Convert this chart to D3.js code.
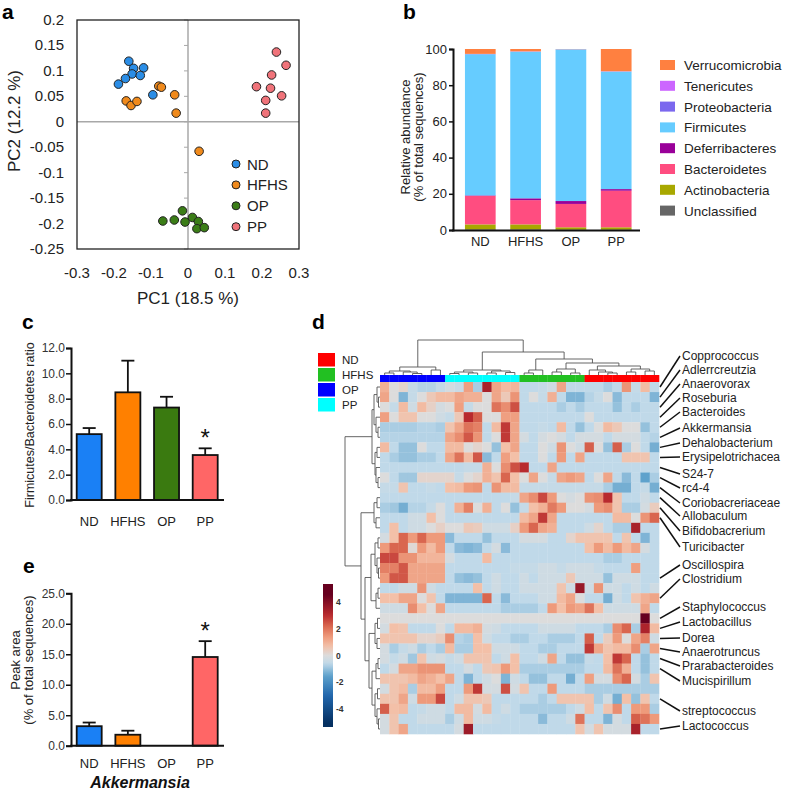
<!DOCTYPE html>
<html>
<head>
<meta charset="utf-8">
<script src="https://cdn.jsdelivr.net/npm/d3@7"></script>
<style>
  body { margin: 0; background: #fff; }
  text { font-family: Arial, "Liberation Sans", Helvetica, sans-serif; }
</style>
</head>
<body>
<div id="chart"></div>
<script>
'use strict';

// ---------- Data ---------- //
var groups = ['ND', 'HFHS', 'OP', 'PP'];
var groupColor = ['#1a80f5', '#ff8000', '#3a7a10', '#ff6666'];
var pointColor = ['#2a8de6', '#f08a1c', '#3b7d17', '#f0737a'];

// panel a : PCA coordinates [PC1, PC2]
var pcaND   = [[-0.160, 0.119], [-0.147, 0.105], [-0.120, 0.106], [-0.151, 0.094], [-0.129, 0.091], [-0.169, 0.085], [-0.188, 0.074], [-0.095, 0.053]];
var pcaHFHS = [[-0.167, 0.041], [-0.154, 0.032], [-0.138, 0.040], [-0.079, 0.070], [-0.072, 0.068], [-0.036, 0.053], [-0.032, 0.017], [0.030, -0.058]];
var pcaOP   = [[-0.015, -0.175], [-0.068, -0.195], [-0.037, -0.193], [-0.008, -0.197], [0.012, -0.188], [0.028, -0.196], [0.024, -0.210], [0.044, -0.208]];
var pcaPP   = [[0.239, 0.137], [0.265, 0.111], [0.226, 0.092], [0.185, 0.069], [0.223, 0.066], [0.253, 0.051], [0.210, 0.042], [0.210, 0.017]];
var pcaXTicks = [-0.3, -0.2, -0.1, 0, 0.1, 0.2, 0.3];
var pcaYTicks = [-0.25, -0.2, -0.15, -0.1, -0.05, 0, 0.05, 0.1, 0.15, 0.2];

// panel b : phylum relative abundance (%), per group ND, HFHS, OP, PP
var phyla = ['Unclassified', 'Actinobacteria', 'Bacteroidetes', 'Deferribacteres', 'Firmicutes', 'Proteobacteria', 'Tenericutes', 'Verrucomicrobia'];
var phylaColor = ['#666666', '#a8a800', '#ff4d80', '#990099', '#66ccff', '#7b68ee', '#cc66ff', '#ff8040'];
var unclassified    = [0.3, 0.3, 0.2, 0.2];
var actinobacteria  = [2.8, 2.8, 1.3, 1.3];
var bacteroidetes   = [15.7, 13.4, 12.9, 20.2];
var deferribacteres = [0.3, 1.0, 1.6, 0.9];
var firmicutes      = [78.0, 81.0, 83.8, 64.9];
var proteobacteria  = [0.1, 0.1, 0.05, 0.1];
var tenericutes     = [0.1, 0.1, 0.05, 0.1];
var verrucomicrobia = [2.7, 1.3, 0.1, 12.3];
var abundTicks = [0, 20, 40, 60, 80, 100];

// panel c : Firmicutes/Bacteroidetes ratio
var ratioMean = [5.2, 8.5, 7.3, 3.55];
var ratioSem  = [0.48, 2.5, 0.85, 0.53];
var ratioTicks = [0, 2, 4, 6, 8, 10, 12];

// panel e : Akkermansia peak area
var akkMean = [3.2, 1.8, 0, 14.55];
var akkSem  = [0.6, 0.66, 0, 2.6];
var akkTicks = [0, 5, 10, 15, 20, 25];

// panel d : heatmap (z-scores), 35 genera x 30 samples
var colGroup = ['OP','OP','OP','OP','OP','OP','OP',
  'PP','PP','PP','PP','PP','PP','PP','PP',
  'HFHS','HFHS','HFHS','HFHS','HFHS','HFHS','HFHS',
  'ND','ND','ND','ND','ND','ND','ND','ND'];
var heat = [
  [1.0,0,0.2,-0.5,-0.7,-0.7,-0.5,-0.2,-0.4,1.3,-0.8,3.3,1.2,0.8,0.9,-0.6,-0.6,-0.5,-0.3,1.2,-0.6,-0.6,-0.6,-0.6,-0.8,-0.6,1.5,-0.5,0.8,-0.6],
  [1.2,0,-1.2,-0.5,0,0.5,0.8,0.8,1.2,1.0,1.0,0,1.2,0.5,1.5,-0.6,0,-0.5,1.0,-0.6,-1.2,-1.2,-0.7,-0.5,0,-1.1,-0.6,-0.6,-0.6,-1.2],
  [0,-0.5,0.8,-0.3,0.8,0.3,-0.2,0,1.3,-0.5,0,0,2.0,1.6,2.5,-0.6,-0.6,-0.6,-0.6,-0.8,-0.6,-0.8,-0.6,-0.6,-0.6,-1.0,-0.6,-0.8,-0.6,-0.6],
  [1.3,0,0.6,0.6,0,0,-0.3,-0.5,0.5,3.0,2.3,0,0,1.3,1.3,-0.6,-0.6,-0.6,-0.6,-0.6,-0.6,-0.6,0,-0.6,-0.6,-0.6,-0.6,-0.6,-0.6,-0.6],
  [-0.8,-0.8,-0.8,-0.8,-0.7,-0.7,-0.8,0.6,1.2,2.0,1.8,-0.6,0.8,2.8,1.2,-0.6,-0.6,-0.5,-0.6,0.8,-0.6,-1.0,-0.6,0,0.8,0.5,0,0,-1.0,-0.6],
  [-0.7,-0.7,-0.7,-0.7,-0.7,-0.7,-0.7,1.2,1.6,2.4,1.5,-0.6,0,2.8,1.2,-0.2,-0.6,-0.2,0,-0.2,-0.6,-0.2,-0.2,-0.2,-0.6,-0.2,-0.2,-0.2,-0.6,-0.7],
  [0.8,-0.6,-1.0,-1.0,0,-0.6,-0.6,0.8,0.8,0,0.2,0,-1.0,0.7,1.2,-0.6,-0.6,0,-0.3,1.5,0,-0.3,2.3,0,-1.0,2.3,-0.8,0,-0.6,-1.3],
  [-0.6,-0.8,-1.0,-1.0,-0.8,-0.8,-0.6,1.2,2.0,0.8,2.4,-1.1,-0.6,1.3,0.7,-0.6,-0.6,0,-0.6,1.4,-0.6,1.2,-0.6,-0.6,-0.6,-0.6,0.6,0.6,0.6,-0.6],
  [-0.6,-0.6,-0.6,-0.6,-0.6,-0.6,-0.6,-0.6,-0.6,-0.5,-0.5,1.0,0,1.6,2.5,3.0,-0.6,-0.6,1.2,-0.6,-0.6,-0.6,-0.6,-0.6,-0.6,-0.6,-0.6,-0.6,-0.6,-0.6],
  [0,-0.6,-0.9,-0.9,0.2,0.2,0.2,0.2,-0.5,0,0.2,1.0,0.6,2.2,0.7,0,1.2,0,-0.5,1.2,1.4,1.2,-0.6,0,1.2,-0.6,-1.1,-0.6,-1.5,-0.8],
  [-0.5,-0.5,0.6,-0.6,-0.6,-0.5,-0.6,0.7,0.8,1.4,1.5,-0.6,1.5,0.8,0.8,-0.5,-0.5,-0.5,-0.5,-0.5,-0.5,-0.5,-0.5,-0.5,-0.8,-1.3,-1.3,-0.6,-0.5,-1.3],
  [-0.6,-0.6,-0.6,-0.6,-0.6,-0.6,-0.6,-0.6,-0.6,-0.6,-0.6,-0.6,-0.6,-0.6,-0.5,1.2,1.6,2.6,1.4,0,-0.2,0,1.5,1.6,3.0,0.6,-0.6,-0.6,-0.3,-0.6],
  [-0.8,-0.9,-1.3,-0.7,-0.7,-0.5,0,-0.6,1.0,1.8,0,1.0,-0.6,0,-1.0,-0.5,0.7,1.0,1.9,1.4,0,0,-0.2,1.4,1.6,0.6,-0.8,-0.8,-0.2,0.4],
  [-0.6,-0.6,-0.6,-0.3,-0.3,0.7,0,-0.6,-0.6,-0.6,-0.6,-0.6,-0.6,-0.6,-0.6,0.8,1.2,2.8,1.2,-0.6,-0.6,-0.6,-0.6,-0.6,-0.6,0.8,0.8,0,1.5,2.2],
  [-0.6,0.7,-0.6,-0.3,-0.3,0,0.3,0,0,0.5,0.4,-0.3,-0.3,-0.3,0.3,1.4,2.2,1.2,1.0,-0.6,-0.6,-0.6,-0.3,0.2,-0.6,-0.8,-0.8,3.3,-0.6,-0.6],
  [-0.2,0.7,2.2,1.4,2.2,1.4,1.4,-1.1,-0.6,-0.6,-0.6,-1.0,-0.6,-0.6,-0.6,-0.2,-0.2,-0.2,-0.6,-0.6,0.2,0.6,0.6,0.6,0.6,-0.6,0.6,-0.6,-1.2,-0.6],
  [1.4,2.2,2.2,0.1,1.4,0.8,1.4,-0.6,-1.1,-1.2,-1.1,-0.6,-0.2,-1.1,-0.6,-0.6,-0.6,-0.6,-0.6,-0.6,-0.6,-0.6,0.7,1.4,0.8,1.4,0.8,1.2,-0.2,-0.6],
  [2.6,2.6,1.5,1.5,0.9,0.9,0.9,-0.2,-0.6,-0.6,-0.6,0.8,-0.6,-0.6,-0.6,-0.6,-0.6,-0.6,-0.6,-0.6,-0.6,-0.6,-0.6,-0.6,-0.8,-0.8,-0.6,-0.6,-0.6,-0.6],
  [1.8,1.8,2.4,1.2,1.2,1.2,1.2,-0.6,-0.6,-0.6,-0.6,-0.6,-0.6,-0.6,-0.5,-0.5,-0.5,-0.3,-0.3,-0.5,-0.3,-0.3,-0.3,-0.5,-0.6,-0.6,-0.6,1.3,-0.6,-0.6],
  [1.4,2.4,2.4,1.2,1.2,1.2,1.2,-0.6,-1.0,-1.1,-1.0,-0.6,-0.3,-0.6,-0.6,-0.3,-0.6,-0.3,-0.3,-0.3,0.5,-0.3,-0.3,-0.3,-1.0,-0.3,-0.3,-0.3,-0.6,-0.6],
  [-0.6,-0.6,-0.3,-0.3,1.5,-0.3,-0.6,-0.6,-0.6,-0.6,0.7,-0.6,-0.3,-0.6,-0.6,-0.3,-0.3,-0.3,-0.3,0.6,-0.3,3.6,-0.3,1.5,-0.3,-0.3,-0.6,-0.3,-0.6,-0.3],
  [0.7,0.7,1.2,1.2,0,0.6,-0.6,-1.2,-1.2,-1.2,-1.2,2.2,-0.6,-1.1,-0.6,-0.6,-0.6,-0.3,-0.3,0.8,1.2,0,-0.6,-0.6,-1.3,-0.3,-0.6,0.6,1.0,1.2],
  [-0.3,-0.3,-0.3,1.6,0.7,0,1.2,-0.6,-0.6,-0.6,-0.6,-0.6,-0.6,-0.8,-0.8,-0.8,-0.8,-0.6,1.4,0.7,1.4,1.2,2.0,0.7,-0.3,-0.3,-0.3,-0.3,1.2,-0.6],
  [0,0,0,0,0,0,0,0,0,0,0,0,0,0,0,0,0,0,0,0,0,0,0,0,0,0,0,0,4.8,0],
  [-0.2,0.7,0.6,-0.6,-0.6,-0.6,0,-0.6,0.8,0.8,1.0,-0.2,-0.3,-0.6,-0.6,-0.6,-0.6,-0.3,-0.3,-0.3,-0.3,-0.6,-0.6,-0.6,-0.8,1.6,2.2,-0.8,3.2,0.8],
  [0.6,0.6,0.6,0.6,0.2,0.2,0.4,1.6,-0.7,-0.8,0.7,-0.3,-0.6,-0.6,-0.8,-0.8,-0.6,-0.6,-0.8,-0.8,-0.8,-0.6,2.3,-0.6,0.4,1.4,0,1.2,1.8,-0.3],
  [-0.2,-0.8,-0.5,-0.3,-0.8,-0.6,-0.8,0.8,-0.8,-0.8,0.7,0.7,-0.3,-0.3,-0.3,-0.6,-0.6,-0.8,-0.8,-0.6,-0.6,-0.6,2.8,1.2,0.6,0.8,0.8,1.6,-0.8,1.2],
  [-0.2,-0.5,-0.3,-0.9,0.6,-0.3,-0.2,-0.5,-0.3,0.6,0.6,0.6,-0.6,-0.3,0.7,-0.6,-0.6,-0.3,1.2,-0.6,-1.0,-1.0,-0.5,-0.6,0.7,2.8,2.2,-0.6,-1.0,-0.6],
  [-0.6,-0.2,1.2,1.2,1.5,1.5,1.5,-0.6,-0.6,-0.2,-0.6,0.5,0.6,1.4,0.7,-0.8,-0.8,-0.8,-0.8,-0.8,-0.8,-0.8,-0.6,-0.6,0.8,2.0,1.0,-0.6,-1.0,-0.6],
  [0.6,0.6,0.6,0.8,1.2,1.0,0.7,1.2,-0.6,-1.2,-0.6,-0.3,0,-1.2,-0.3,-0.6,-1.0,-1.0,-0.6,-0.6,-1.3,-0.6,1.3,-0.2,-0.2,1.6,2.2,-0.2,-0.8,0.6],
  [-0.2,0.6,0.8,-0.8,0.8,0.8,1.3,-0.6,-0.6,1.4,2.8,-0.2,-0.2,2.5,-0.2,0.6,-0.6,-0.6,1.4,-0.6,-0.6,-0.6,-0.8,-0.8,-0.8,-0.8,-0.8,-0.8,-0.8,-0.8],
  [0.6,0.6,1.2,-0.3,1.4,1.4,2.6,-0.6,-0.3,0.6,0.6,0.5,-0.6,-0.6,-0.6,-0.6,-0.6,-0.8,-0.6,0.6,0.6,0.6,0.6,-0.8,-0.3,-1.3,0.7,-1.0,0.6,-0.6],
  [2.3,0.7,0.8,-0.6,-0.5,-0.3,-0.3,-0.6,0.8,0.8,-0.2,0.8,-0.6,-0.3,-0.6,-0.8,-0.8,-0.8,-0.8,-0.8,-0.6,-0.3,0.7,-0.6,0.6,1.6,-0.6,1.4,1.4,-0.8],
  [-0.2,0.6,-0.6,-0.6,-0.3,-0.3,-0.3,-0.8,-0.3,0.8,-0.3,-0.3,-0.5,-0.6,-0.6,-0.6,-0.6,-1.1,-0.6,-0.6,-0.3,2.0,-0.6,-0.6,-1.2,-0.2,-0.6,2.3,2.0,1.4],
  [-0.2,0.6,1.2,-0.6,-0.6,-0.6,-0.6,-0.6,-0.2,3.5,-0.6,-0.6,-0.6,-0.6,-0.6,-0.6,-0.6,-0.6,-0.6,-0.6,-0.6,0.6,-0.2,0.6,-0.2,-0.2,-0.2,3.3,-0.6,-0.6]
];
var genusNames = ['Copprococcus','Adlerrcreutzia','Anaerovorax','Roseburia','Bacteroides','Akkermansia','Dehalobacterium','Erysipelotrichacea','S24-7','rc4-4','Coriobacreriaceae','Allobaculum','Bifidobacrerium','Turicibacter','Oscillospira','Clostridium','Staphylococcus','Lactobacillus','Dorea','Anaerotruncus','Prarabacteroides','Mucispirillum','streptococcus','Lactococcus'];
var genusRow = [0,1,2,3,4,5,6,7,8,9,10,11,12,13,19,21,23,24,25,26,27,28,31,34];
var genusLabelY = [356,370,384,398,412,428,443,457,474,488,503,516,531,547,565,579,607,622,638,652,666,681,711,726];
var scaleTicks = [4, 2, 0, -2, -4];

// dendrograms: [height, left, right], leaves = index
var colTree = [35,
  [8, [4, [2, 0, 1], [3, 2, [1.5, 3, 4]]], [5, 5, 6]],
  [23,
    [5, [3, [1.5, 7, 8], [2, 9, 10]], [4, [2, 11, 12], [2.5, 13, 14]]],
    [16,
      [5, [2, 15, 16], 17],
      [12, [6, [3, 18, 19], [2, 20, 21]],
        [9, [5, 22, [3, 23, [2, 24, 25]]], [6, [3, 26, 27], [4, 28, 29]]]]]]];
var rowTree = [35,
  [8, [6, [3, 0, [1.5, 1, 2]], [4, 3, [2, 4, 5]]], [5, [3, 6, 7], [4, 8, [2, 9, 10]]]],
  [19,
    [6, [3, 11, 12], [4, 13, 14]],
    [15,
      [9, [5, [2, 15, 16], [3, 17, [1.5, 18, 19]]], [4, [2, 20, 21], 22]],
      [11, [5, [2.5, 23, 24], [3, 25, 26]],
        [8, [4, [2, 27, 28], 29], [5, [2.5, 30, 31], [3, 32, [1.5, 33, 34]]]]]]]];

// ---------- Canvas ---------- //
var svg = d3.select('#chart').append('svg')
  .attr('width', 787)
  .attr('height', 792);

function panelLetter(t, x, y) {
  svg.append('text').attr('x', x).attr('y', y)
    .attr('font-size', 21).attr('font-weight', 'bold').text(t);
}
function fmt(d) { return d === 0 ? '0' : String(+d.toFixed(2)); }

// ---------- Panel a ---------- //
panelLetter('a', 2, 19);
var ax = d3.scaleLinear().domain([-0.3, 0.3]).range([77, 299]);
var ay = d3.scaleLinear().domain([-0.25, 0.2]).range([249, 20]);
var ga = svg.append('g');

ga.append('line').attr('x1', ax(0)).attr('x2', ax(0)).attr('y1', ay.range()[1]).attr('y2', ay.range()[0])
  .attr('stroke', '#a8a8a8').attr('stroke-width', 1.5);
ga.append('line').attr('y1', ay(0)).attr('y2', ay(0)).attr('x1', ax.range()[0]).attr('x2', ax.range()[1])
  .attr('stroke', '#a8a8a8').attr('stroke-width', 1.5);
ga.selectAll('.ztick').data(pcaYTicks).enter().append('line')
  .attr('x1', ax(0) - 4).attr('x2', ax(0)).attr('y1', function (d) { return ay(d); }).attr('y2', function (d) { return ay(d); })
  .attr('stroke', '#a8a8a8').attr('stroke-width', 1);
ga.append('rect').attr('x', 77).attr('y', 20).attr('width', 222).attr('height', 229)
  .attr('fill', 'none').attr('stroke', '#222').attr('stroke-width', 1.3);

ga.selectAll('.xl').data(pcaXTicks).enter().append('text')
  .attr('x', function (d) { return ax(d); }).attr('y', 278)
  .attr('text-anchor', 'middle').attr('font-size', 15).attr('fill', '#222').text(fmt);
ga.selectAll('.yl').data(pcaYTicks).enter().append('text')
  .attr('x', 64).attr('y', function (d) { return ay(d) + 5; })
  .attr('text-anchor', 'end').attr('font-size', 15).attr('fill', '#222').text(fmt);
ga.append('text').attr('x', 188).attr('y', 304).attr('text-anchor', 'middle')
  .attr('font-size', 17).attr('fill', '#222').text('PC1 (18.5 %)');
ga.append('text').attr('transform', 'translate(20,121) rotate(-90)').attr('text-anchor', 'middle')
  .attr('font-size', 17).attr('fill', '#222').text('PC2 (12.2 %)');

[pcaND, pcaHFHS, pcaOP, pcaPP].forEach(function (pts, gi) {
  ga.selectAll('.p' + gi).data(pts).enter().append('circle')
    .attr('cx', function (d) { return ax(d[0]); })
    .attr('cy', function (d) { return ay(d[1]); })
    .attr('r', 4.3).attr('fill', pointColor[gi]).attr('stroke', '#222').attr('stroke-width', 1);
});
var legA = ga.selectAll('.la').data(groups).enter().append('g')
  .attr('transform', function (d, i) { return 'translate(236,' + (164 + i * 20.9) + ')'; });
legA.append('circle').attr('r', 4).attr('fill', function (d, i) { return pointColor[i]; })
  .attr('stroke', '#222').attr('stroke-width', 1);
legA.append('text').attr('x', 11).attr('y', 5.5).attr('font-size', 15).attr('fill', '#222').text(function (d) { return d; });

// ---------- Panel b ---------- //
panelLetter('b', 403, 19);
var bx = d3.scalePoint().domain(groups).range([480.3, 616.2]);
var by = d3.scaleLinear().domain([0, 100]).range([230, 49]);
var barW = 30.7;
var seriesB = [unclassified, actinobacteria, bacteroidetes, deferribacteres, firmicutes, proteobacteria, tenericutes, verrucomicrobia];
var rowsB = groups.map(function (g, i) {
  var o = { group: g };
  phyla.forEach(function (p, k) { o[p] = seriesB[k][i]; });
  return o;
});
var stackB = d3.stack().keys(phyla)(rowsB);
var gb = svg.append('g');
gb.selectAll('.layer').data(stackB).enter().append('g')
  .attr('fill', function (d, k) { return phylaColor[k]; })
  .selectAll('rect').data(function (d) { return d; }).enter().append('rect')
  .attr('x', function (d) { return bx(d.data.group) - barW / 2; })
  .attr('width', barW)
  .attr('y', function (d) { return by(Math.min(d[1], 100)); })
  .attr('height', function (d) { return Math.max(0, by(d[0]) - by(Math.min(d[1], 100))); });
gb.append('g').attr('transform', 'translate(453,0)')
  .call(d3.axisLeft(by).tickValues(abundTicks).tickSize(4).tickFormat(d3.format('d')))
  .call(function (g) {
    g.select('.domain').attr('stroke', '#111').attr('stroke-width', 2);
    g.selectAll('.tick line').attr('stroke', '#111').attr('stroke-width', 1.5);
    g.selectAll('.tick text').attr('font-size', 13).attr('fill', '#222').attr('x', -6);
  });
gb.append('line').attr('x1', 452).attr('x2', 640).attr('y1', 230.5).attr('y2', 230.5)
  .attr('stroke', '#111').attr('stroke-width', 2);
gb.selectAll('.bxl').data(groups).enter().append('text')
  .attr('x', function (d) { return bx(d); }).attr('y', 246)
  .attr('text-anchor', 'middle').attr('font-size', 13).attr('fill', '#222').text(function (d) { return d; });
gb.append('text').attr('transform', 'translate(410,137) rotate(-90)').attr('text-anchor', 'middle')
  .attr('font-size', 13).attr('fill', '#222').text('Relative abundance');
gb.append('text').attr('transform', 'translate(423,137) rotate(-90)').attr('text-anchor', 'middle')
  .attr('font-size', 13).attr('fill', '#222').text('(% of total sequences)');
var legB = gb.selectAll('.lb').data(phyla.slice().reverse()).enter().append('g')
  .attr('transform', function (d, i) { return 'translate(660,' + (65 + i * 20.8) + ')'; });
legB.append('rect').attr('x', 0).attr('y', -5).attr('width', 15).attr('height', 10)
  .attr('fill', function (d) { return phylaColor[phyla.indexOf(d)]; });
legB.append('text').attr('x', 24).attr('y', 5).attr('font-size', 13.5).attr('fill', '#222').text(function (d) { return d; });

// ---------- Bar panels c and e ---------- //
function barPanel(opt) {
  var g = svg.append('g');
  var x = d3.scalePoint().domain(groups).range([89.2, 205.2]);
  var y = d3.scaleLinear().domain(opt.domain).range(opt.range);
  var w = 25;
  opt.mean.forEach(function (m, i) {
    if (m <= 0) return;
    var top = y(m + opt.sem[i]);
    g.append('line').attr('x1', x(groups[i])).attr('x2', x(groups[i])).attr('y1', y(m)).attr('y2', top)
      .attr('stroke', '#111').attr('stroke-width', 1.8);
    g.append('line').attr('x1', x(groups[i]) - 6.5).attr('x2', x(groups[i]) + 6.5).attr('y1', top).attr('y2', top)
      .attr('stroke', '#111').attr('stroke-width', 1.8);
  });
  g.selectAll('.bar').data(opt.mean).enter().filter(function (d) { return d > 0; }).append('rect')
    .attr('x', function (d) { return x(groups[opt.mean.indexOf(d)]) - w / 2; })
    .attr('y', function (d) { return y(d); })
    .attr('width', w)
    .attr('height', function (d) { return y(0) - y(d); })
    .attr('fill', function (d) { return groupColor[opt.mean.indexOf(d)]; })
    .attr('stroke', '#111').attr('stroke-width', 1.8);
  g.append('g').attr('transform', 'translate(71,0)')
    .call(d3.axisLeft(y).tickValues(opt.ticks).tickSize(5).tickFormat(d3.format('.1f')))
    .call(function (a) {
      a.select('.domain').attr('stroke', '#111').attr('stroke-width', 2);
      a.selectAll('.tick line').attr('stroke', '#111').attr('stroke-width', 1.5);
      a.selectAll('.tick text').attr('font-size', 12).attr('fill', '#333').attr('x', -6);
    });
  g.append('line').attr('x1', 70).attr('x2', 224).attr('y1', y(0)).attr('y2', y(0))
    .attr('stroke', '#111').attr('stroke-width', 2);
  g.selectAll('.xl').data(groups).enter().append('text')
    .attr('x', function (d) { return x(d); }).attr('y', opt.xLabelY)
    .attr('text-anchor', 'middle').attr('font-size', 13).attr('fill', '#222').text(function (d) { return d; });
  g.append('text').attr('x', x('PP')).attr('y', y(opt.mean[3] + opt.sem[3]) - 2.5)
    .attr('text-anchor', 'middle').attr('font-size', 24).attr('fill', '#111').text('*');
  return g;
}

panelLetter('c', 22, 329);
var gc = barPanel({ mean: ratioMean, sem: ratioSem, domain: [0, 12], range: [500, 348], ticks: ratioTicks, xLabelY: 526 });
gc.append('text').attr('transform', 'translate(34,425) rotate(-90)').attr('text-anchor', 'middle')
  .attr('font-size', 12.5).attr('fill', '#222').text('Firmicutes/Bacteroidetes ratio');

panelLetter('e', 23, 573);
var ge = barPanel({ mean: akkMean, sem: akkSem, domain: [0, 25], range: [745.7, 593.3], ticks: akkTicks, xLabelY: 768 });
ge.append('text').attr('transform', 'translate(20,660) rotate(-90)').attr('text-anchor', 'middle')
  .attr('font-size', 13).attr('fill', '#222').text('Peak area');
ge.append('text').attr('transform', 'translate(33,660) rotate(-90)').attr('text-anchor', 'middle')
  .attr('font-size', 13).attr('fill', '#222').text('(% of total sequences)');
ge.append('text').attr('x', 140).attr('y', 788).attr('text-anchor', 'middle')
  .attr('font-size', 16).attr('font-weight', 'bold').attr('font-style', 'italic').attr('fill', '#111').text('Akkermansia');

// ---------- Panel d : heatmap ---------- //
panelLetter('d', 312, 329);
var gd = svg.append('g');
var hx = d3.scaleBand().domain(d3.range(heat[0].length)).range([380, 659]);
var hy = d3.scaleBand().domain(d3.range(heat.length)).range([382, 734]);
var heatColor = d3.scaleLinear()
  .domain([-5, -3, -1.5, -0.6, 0, 0.7, 1.4, 2.2, 3, 4.5])
  .range(['#053061', '#2166ac', '#5fa2cc', '#c0d9e9', '#dcdcdc', '#f3c0a8', '#ee9a7b', '#d9664f', '#b82a2e', '#67001f'])
  .clamp(true);
var groupHeatColor = { ND: '#ff0000', HFHS: '#22c022', OP: '#0000ff', PP: '#00ffff' };

heat.forEach(function (row, r) {
  gd.selectAll('.c' + r).data(row).enter().append('rect')
    .attr('x', function (d, c) { return hx(c); })
    .attr('y', hy(r))
    .attr('width', hx.bandwidth() + 0.3)
    .attr('height', hy.bandwidth() + 0.3)
    .attr('fill', function (d) { return heatColor(d); });
});
gd.selectAll('.cg').data(colGroup).enter().append('rect')
  .attr('x', function (d, c) { return hx(c); }).attr('y', 375)
  .attr('width', hx.bandwidth() + 0.3).attr('height', 7)
  .attr('fill', function (d) { return groupHeatColor[d]; });

// dendrograms
function drawTree(node, leafPos, hs, horizontal, out) {
  if (typeof node === 'number') return { p: leafPos(node), h: 0 };
  var a = drawTree(node[1], leafPos, hs, horizontal, out);
  var b = drawTree(node[2], leafPos, hs, horizontal, out);
  var h = node[0];
  if (horizontal) {
    out.push('M' + a.p + ',' + hs(a.h) + 'V' + hs(h) + 'H' + b.p + 'V' + hs(b.h));
  } else {
    out.push('M' + hs(a.h) + ',' + a.p + 'H' + hs(h) + 'V' + b.p + 'H' + hs(b.h));
  }
  return { p: (a.p + b.p) / 2, h: h };
}
var topPaths = [];
drawTree(colTree, function (i) { return hx(i) + hx.bandwidth() / 2; },
  d3.scaleLinear().domain([0, 35]).range([375, 340]), true, topPaths);
var leftPaths = [];
drawTree(rowTree, function (i) { return hy(i) + hy.bandwidth() / 2; },
  d3.scaleLinear().domain([0, 35]).range([380, 345]), false, leftPaths);
gd.selectAll('.dend').data(topPaths.concat(leftPaths)).enter().append('path')
  .attr('d', function (d) { return d; })
  .attr('fill', 'none').attr('stroke', '#555').attr('stroke-width', 0.9);

// row labels with leader lines
gd.selectAll('.lead').data(genusNames).enter().append('line')
  .attr('x1', 660).attr('x2', 680)
  .attr('y1', function (d, i) { return hy(genusRow[i]) + hy.bandwidth() / 2; })
  .attr('y2', function (d, i) { return genusLabelY[i]; })
  .attr('stroke', '#111').attr('stroke-width', 1.5);
gd.selectAll('.gl').data(genusNames).enter().append('text')
  .attr('x', 682).attr('y', function (d, i) { return genusLabelY[i] + 4; })
  .attr('font-size', 12).attr('fill', '#222').text(function (d) { return d; });

// group legend
var legD = gd.selectAll('.ld').data(groups).enter().append('g')
  .attr('transform', function (d, i) { return 'translate(318,' + (353 + i * 15) + ')'; });
legD.append('rect').attr('width', 17).attr('height', 13.5).attr('fill', function (d) { return groupHeatColor[d]; });
legD.append('text').attr('x', 24).attr('y', 11).attr('font-size', 11.5).attr('fill', '#222').text(function (d) { return d; });

// colour key
var keyY = d3.scaleLinear().domain([-5.3, 5.3]).range([727, 584]);
var defs = svg.append('defs');
var grad = defs.append('linearGradient').attr('id', 'heatKey')
  .attr('x1', 0).attr('y1', 1).attr('x2', 0).attr('y2', 0);
grad.selectAll('stop').data(d3.range(-5.3, 5.31, 0.265)).enter().append('stop')
  .attr('offset', function (d) { return (d + 5.3) / 10.6; })
  .attr('stop-color', function (d) { return heatColor(d); });
gd.append('rect').attr('x', 323).attr('y', 584).attr('width', 10).attr('height', 143).attr('fill', 'url(#heatKey)');
gd.selectAll('.kt').data(scaleTicks).enter().append('text')
  .attr('x', 336).attr('y', function (d) { return keyY(d) + 3; })
  .attr('font-size', 8.5).attr('font-weight', 'bold').attr('fill', '#333').text(function (d) { return d; });
</script>
</body>
</html>
